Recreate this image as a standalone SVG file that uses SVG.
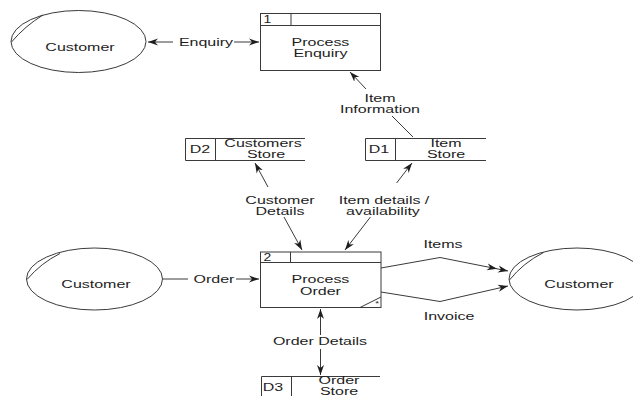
<svg xmlns="http://www.w3.org/2000/svg" width="633" height="396" viewBox="0 0 633 396">
<style>
.s{fill:none;stroke:#3a3a3a;stroke-width:1}
.b{fill:#fff;stroke:#3a3a3a;stroke-width:1}
.t{font-family:"Liberation Sans",Arial,sans-serif;font-size:10px;fill:#1e1e1e;text-anchor:middle}
.a{marker-end:url(#ah)}
.as{marker-start:url(#ah)}
</style>
<defs>
<marker id="ah" markerUnits="userSpaceOnUse" markerWidth="11" markerHeight="8" refX="10" refY="4" orient="auto-start-reverse" viewBox="0 0 11 8">
<path d="M0,0.5 L10,4 L0,7.5 L3,4 z" fill="#1e1e1e"/>
</marker>
<path id="head" d="M-10,-3.5 L0,0 L-10,3.5 L-7,0 z" fill="#1e1e1e"/>
</defs>
<rect width="633" height="396" fill="#fff"/>

<g id="connectors">
  <!-- Enquiry -->
  <line class="s as" x1="148" y1="42" x2="173" y2="42"/>
  <line class="s a" x1="234" y1="42" x2="259" y2="42"/>
  <text class="t" transform="translate(206,46) scale(1.6,1)">Enquiry</text>
  <!-- Item Information -->
  <line class="s a" x1="366" y1="89" x2="350" y2="72"/>
  <line class="s" x1="392" y1="116" x2="413" y2="137"/>
  <text class="t" transform="translate(380,101.5) scale(1.6,1)">Item</text>
  <text class="t" transform="translate(380,113) scale(1.6,1)">Information</text>
  <!-- Customer Details -->
  <line class="s a" x1="268" y1="187" x2="255" y2="163"/>
  <line class="s a" x1="284" y1="217" x2="302" y2="250"/>
  <text class="t" transform="translate(280,203.5) scale(1.6,1)">Customer</text>
  <text class="t" transform="translate(280,214.5) scale(1.6,1)">Details</text>
  <!-- Item details / availability -->
  <line class="s a" x1="396.6" y1="183" x2="412" y2="163"/>
  <line class="s a" x1="370.4" y1="217" x2="345" y2="250"/>
  <text class="t" transform="translate(384,203.5) scale(1.6,1)">Item details /</text>
  <text class="t" transform="translate(383,214.5) scale(1.6,1)">availability</text>
  <!-- Order -->
  <line class="s" x1="163" y1="279" x2="188" y2="279"/>
  <line class="s a" x1="236" y1="279" x2="259" y2="279"/>
  <text class="t" transform="translate(214,283) scale(1.6,1)">Order</text>
  <!-- Order Details -->
  <line class="s as" x1="320.5" y1="309" x2="320.5" y2="335"/>
  <line class="s a" x1="320.5" y1="349" x2="320.5" y2="375"/>
  <text class="t" transform="translate(320,345) scale(1.6,1)">Order Details</text>
  <!-- Items -->
  <path class="s a" d="M381,268 L440,257.5 L508,271"/>
  <use href="#head" transform="translate(497,268.8) rotate(11.2)"/>
  <text class="t" transform="translate(443,248) scale(1.6,1)">Items</text>
  <!-- Invoice -->
  <path class="s a" d="M381,292 L440,301.5 L508,286"/>
  <text class="t" transform="translate(449,320) scale(1.6,1)">Invoice</text>
</g>

<g id="customer-top">
  <ellipse class="b" cx="78.5" cy="41.5" rx="67.5" ry="31"/>
  <path class="s" d="M11.5,42 Q25,26 43,15"/>
  <text class="t" transform="translate(80,51) scale(1.6,1)">Customer</text>
</g>

<g id="process-1">
  <rect class="b" x="260.5" y="13.5" width="120" height="57"/>
  <line class="s" x1="260.5" y1="25.5" x2="380.5" y2="25.5"/>
  <line class="s" x1="291" y1="13.5" x2="291" y2="25.5"/>
  <text class="t" transform="translate(267.5,22.5) scale(1.4,1)">1</text>
  <text class="t" transform="translate(320.5,45.5) scale(1.6,1)">Process</text>
  <text class="t" transform="translate(320.5,56.5) scale(1.6,1)">Enquiry</text>
</g>

<g id="store-d2">
  <path class="s" d="M305,138.5 H185.5 V160.5 H305 M215.5,138.5 V160.5"/>
  <text class="t" transform="translate(200,152.5) scale(1.6,1)">D2</text>
  <text class="t" transform="translate(263,146.5) scale(1.6,1)">Customers</text>
  <text class="t" transform="translate(266,158) scale(1.6,1)">Store</text>
</g>

<g id="store-d1">
  <path class="s" d="M486,138.5 H365.5 V160.5 H486 M395.5,138.5 V160.5"/>
  <text class="t" transform="translate(379,152.5) scale(1.6,1)">D1</text>
  <text class="t" transform="translate(446,146.5) scale(1.6,1)">Item</text>
  <text class="t" transform="translate(446,158) scale(1.6,1)">Store</text>
</g>

<g id="customer-left">
  <ellipse class="b" cx="94.5" cy="279" rx="68" ry="31"/>
  <path class="s" d="M27,279.5 Q41,263 60,253.5"/>
  <text class="t" transform="translate(96,288) scale(1.6,1)">Customer</text>
</g>

<g id="process-2">
  <rect class="b" x="260.5" y="252" width="120.5" height="55.5"/>
  <line class="s" x1="260.5" y1="262.5" x2="381" y2="262.5"/>
  <line class="s" x1="290.5" y1="252" x2="290.5" y2="262.5"/>
  <text class="t" transform="translate(267.5,261) scale(1.4,1)">2</text>
  <text class="t" transform="translate(320.5,283) scale(1.6,1)">Process</text>
  <text class="t" transform="translate(320.5,294.5) scale(1.6,1)">Order</text>
  <line class="s" x1="360" y1="307.5" x2="381" y2="297"/>
  <text class="t" style="font-size:8px" transform="translate(377,306) scale(1.2,1)">*</text>
</g>

<g id="customer-right">
  <ellipse class="b" cx="577" cy="279" rx="68" ry="31"/>
  <path class="s" d="M509.5,280 Q523,263 543.5,252.5"/>
  <text class="t" transform="translate(579,288) scale(1.6,1)">Customer</text>
</g>

<g id="store-d3">
  <path class="s" d="M380,376.5 H261.5 V396 M291.5,376.5 V396"/>
  <text class="t" transform="translate(273,391) scale(1.6,1)">D3</text>
  <text class="t" transform="translate(339,383.5) scale(1.6,1)">Order</text>
  <text class="t" transform="translate(339,394.5) scale(1.6,1)">Store</text>
</g>
</svg>
